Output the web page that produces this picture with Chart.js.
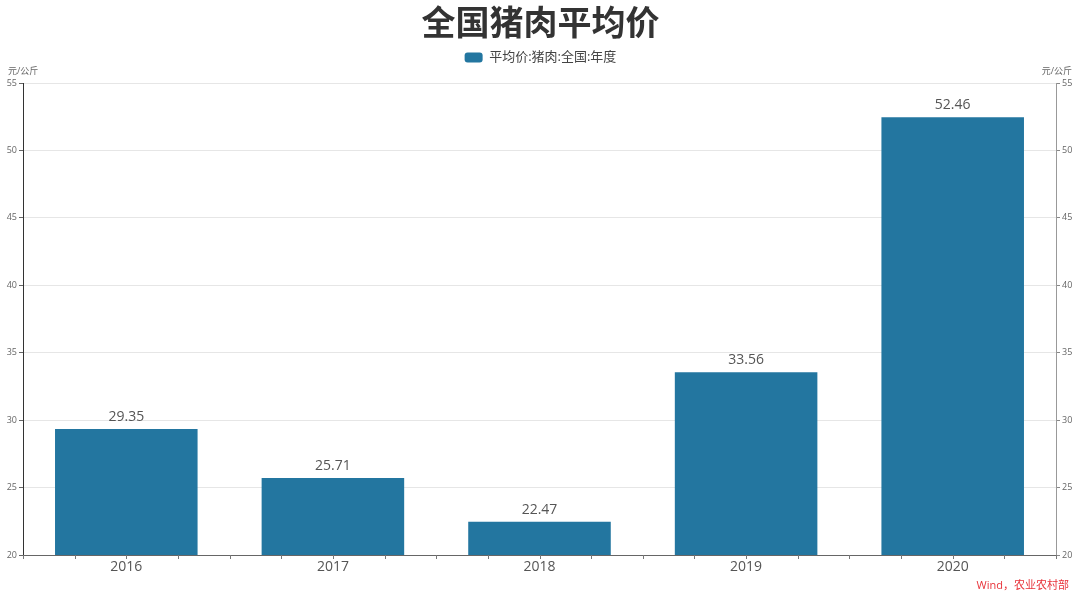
<!DOCTYPE html>
<html>
<head>
<meta charset="utf-8">
<script src="https://cdn.jsdelivr.net/npm/chart.js@4/dist/chart.umd.min.js"></script>
<style>
  html, body { margin: 0; padding: 0; background: #fff; }
  #wrap { width: 1080px; height: 596px; position: relative; }
</style>
</head>
<body>
<div id="wrap"><canvas id="c"></canvas></div>
<script>
// data
const years = ["2016", "2017", "2018", "2019", "2020"];
const prices = [29.35, 25.71, 22.47, 33.56, 52.46];
const yTicks = [20, 25, 30, 35, 40, 45, 50, 55];
const seriesName = "平均价:猪肉:全国:年度";
const titleText = "全国猪肉平均价";
const unitText = "元/公斤";
const sourceText = "Wind，农业农村部";

const FONT = "'Open Sans', 'Noto Sans CJK SC', sans-serif";
const barColor = "#2376a0";

// labels on top of bars, units, source, small x ticks
const extras = {
  id: "extras",
  afterDatasetsDraw(chart) {
    const ctx = chart.ctx;
    const meta = chart.getDatasetMeta(0);
    ctx.save();
    ctx.font = "14px " + FONT;
    ctx.fillStyle = "#555";
    ctx.textAlign = "center";
    ctx.textBaseline = "bottom";
    meta.data.forEach((bar, i) => {
      ctx.fillText(prices[i].toFixed(2), bar.x, bar.y - 5);
    });
    ctx.restore();
  },
  afterDraw(chart) {
    const ctx = chart.ctx;
    const area = chart.chartArea;
    const x = chart.scales.x;
    ctx.save();
    // minor ticks on the x axis
    ctx.strokeStyle = "#777";
    ctx.lineWidth = 1;
    ctx.beginPath();
    for (let i = 0; i < years.length; i++) {
      [-0.5, -0.25, 0, 0.25].forEach(d => {
        const px = Math.round(x.getPixelForValue(i + d)) + 0.5;
        ctx.moveTo(px, area.bottom);
        ctx.lineTo(px, area.bottom + 4);
      });
    }
    const last = Math.round(x.getPixelForValue(years.length - 0.5)) + 0.5;
    ctx.moveTo(last, area.bottom);
    ctx.lineTo(last, area.bottom + 4);
    ctx.stroke();

    // units
    ctx.font = "9px " + FONT;
    ctx.fillStyle = "#666";
    ctx.textBaseline = "middle";
    ctx.textAlign = "left";
    ctx.fillText(unitText, 8, 71);
    ctx.textAlign = "right";
    ctx.fillText(unitText, 1072, 71);

    // source
    ctx.font = "11px " + FONT;
    ctx.fillStyle = "#e8333a";
    ctx.textAlign = "right";
    ctx.fillText(sourceText, 1069, 586);
    ctx.restore();
  }
};

const yCommon = {
  min: 20,
  max: 55,
  afterBuildTicks(scale) { scale.ticks = yTicks.map(v => ({ value: v })); },
  ticks: { font: { size: 9, family: FONT }, color: "#666", padding: 2 },
};

new Chart(document.getElementById("c"), {
  type: "bar",
  data: {
    labels: years,
    datasets: [{
      label: seriesName,
      data: prices,
      backgroundColor: barColor,
      borderWidth: 0,
      categoryPercentage: 1,
      barPercentage: 0.69
    }]
  },
  options: {
    responsive: true,
    maintainAspectRatio: false,
    animation: false,
    layout: { padding: { top: 0, left: 1, right: 0, bottom: 0 } },
    plugins: {
      title: {
        display: true,
        text: titleText,
        color: "#333",
        font: { size: 34, weight: "bold", lineHeight: 1.1, family: "'Noto Sans CJK SC', sans-serif" },
        padding: { top: 0, bottom: 0 }
      },
      // empty subtitle used as a gap between legend and plot
      subtitle: {
        display: true,
        text: "",
        weight: 500,
        font: { size: 1, lineHeight: 1 },
        padding: { top: 8, bottom: 0 }
      },
      legend: {
        display: true,
        labels: {
          color: "#444",
          font: { size: 13, family: FONT },
          boxWidth: 18,
          boxHeight: 10,
          useBorderRadius: true,
          borderRadius: 3,
          padding: 10
        }
      },
      tooltip: { enabled: false }
    },
    scales: {
      x: {
        offset: true,
        grid: { display: true, drawOnChartArea: false, drawTicks: false },
        border: { color: "#666" },
        ticks: { font: { size: 14, family: FONT }, color: "#555", padding: 4 },
        afterFit(s) { s.height = 41; }
      },
      y: Object.assign({}, yCommon, {
        position: "left",
        grid: { color: "#e6e6e6", tickColor: "#666", tickLength: 4 },
        border: { color: "#333" },
        afterFit(s) { s.width = 22; s.paddingTop = 83; }
      }),
      y2: Object.assign({}, yCommon, {
        position: "right",
        grid: { drawOnChartArea: false, tickColor: "#888", tickLength: 4 },
        border: { color: "#999" },
        afterFit(s) { s.width = 24; s.paddingTop = 83; }
      })
    }
  },
  plugins: [extras]
});
</script>
</body>
</html>
